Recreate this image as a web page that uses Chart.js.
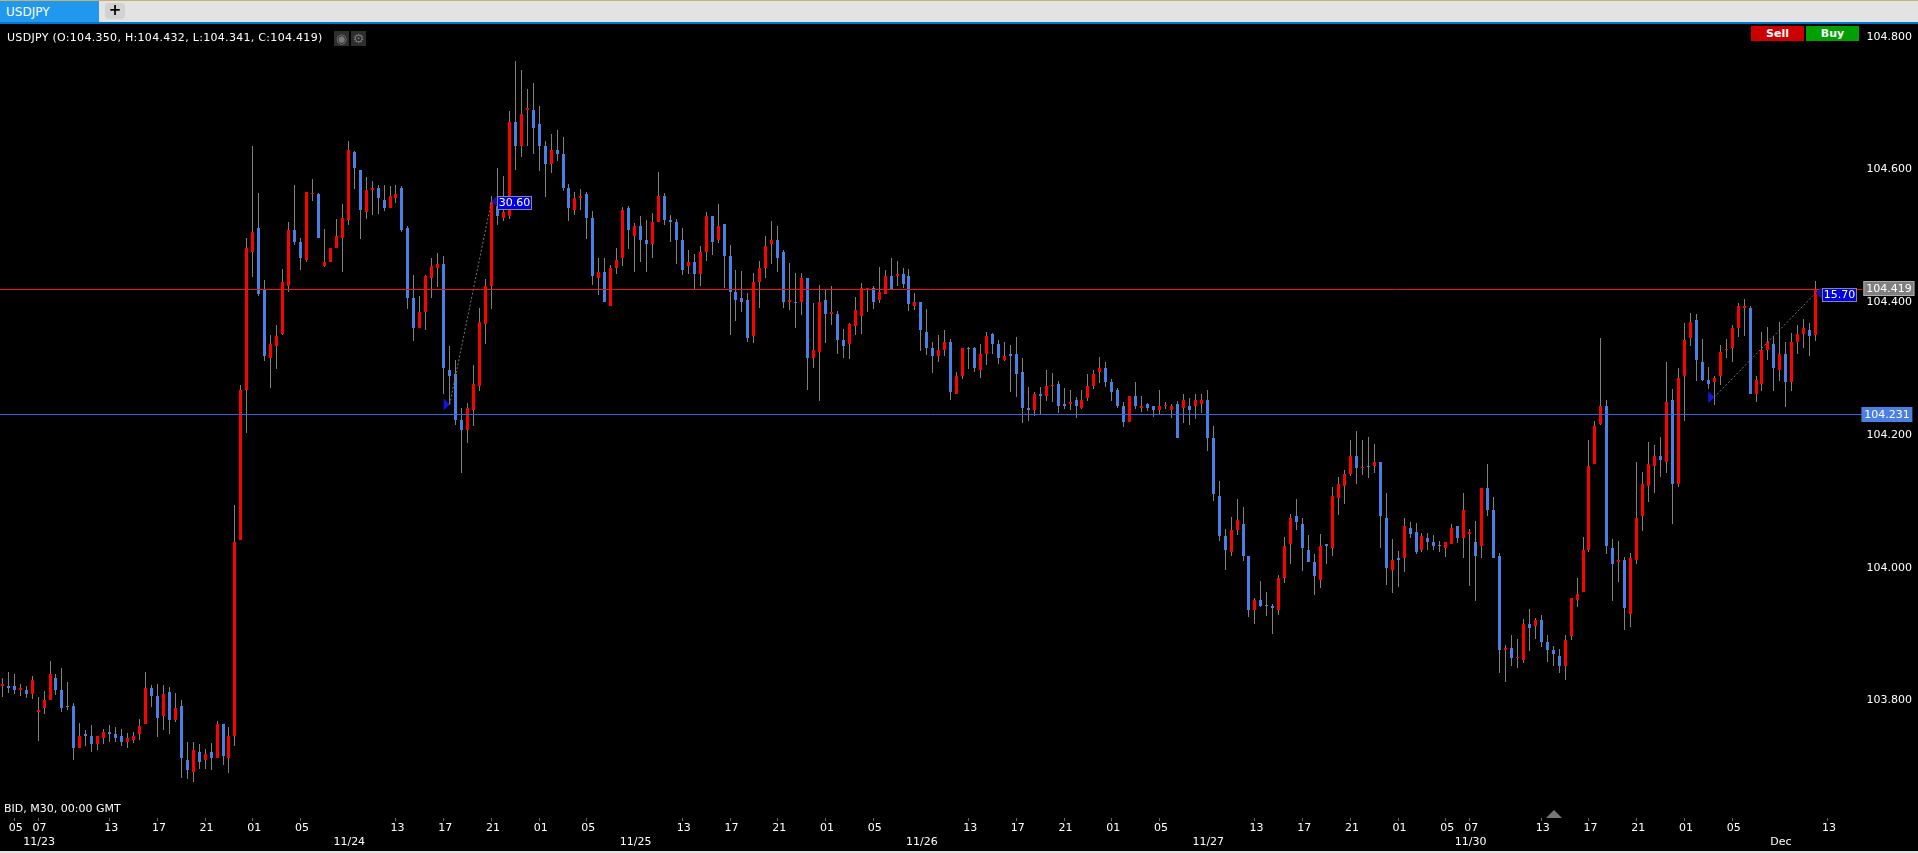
<!DOCTYPE html>
<html>
<head>
<meta charset="utf-8">
<title>USDJPY</title>
<script src="https://cdn.jsdelivr.net/npm/chart.js@4"></script>
<style>
  html, body { margin: 0; padding: 0; width: 1918px; height: 853px; overflow: hidden; background: #000; font-family: "DejaVu Sans", sans-serif; font-size: 11px; color: #fff; }
  #priceChart { position: absolute; left: -1px; top: 24px; }
  .abs { position: absolute; white-space: nowrap; }
  #topBar { left: 0; top: 0; width: 1918px; height: 22px; background: #e3e3e3; border-top: 1px solid #c8b070; box-sizing: border-box; }
  #blueRule { left: 0; top: 22px; width: 1918px; height: 2px; background: #0078d0; }
  #tab { left: 0; top: 1px; width: 99px; height: 21px; line-height: 22px; background: #2098ee; text-indent: 6px; font-size: 12px; }
  #plus { left: 105px; top: 3px; width: 20px; height: 16px; line-height: 15px; text-align: center; background: #d2d2d2; border-radius: 4px; color: #000; font-size: 15px; font-weight: bold; }
  #legend { left: 7px; top: 31px; line-height: 14px; letter-spacing: 0.3px; }
  .icon { top: 31px; width: 15px; height: 15px; line-height: 15px; text-align: center; background: #2e2e2e; color: #777; font-size: 13px; }
  #sell, #buy { top: 26px; width: 53px; height: 15px; line-height: 15px; text-align: center; font-weight: bold; }
  #sell { left: 1751px; background: #cc0000; }
  #buy { left: 1806px; background: #00a000; }
  #feed { left: 4px; top: 802px; line-height: 14px; }
  #marker { left: 1546px; top: 810px; width: 0; height: 0; border-left: 8px solid transparent; border-right: 8px solid transparent; border-bottom: 8px solid #777; }
  #footer { left: 0; top: 851px; width: 1918px; height: 2px; background: #e3e3e3; }
</style>
</head>
<body>
<canvas id="priceChart" width="1920" height="829"></canvas>
<div class="abs" id="topBar"></div>
<div class="abs" id="blueRule"></div>
<div class="abs" id="tab">USDJPY</div>
<div class="abs" id="plus">+</div>
<div class="abs" id="legend">USDJPY (O:104.350, H:104.432, L:104.341, C:104.419)</div>
<div class="abs icon" style="left:334px">&#9673;</div>
<div class="abs icon" style="left:351px">&#9881;</div>
<div class="abs" id="sell">Sell</div>
<div class="abs" id="buy">Buy</div>
<div class="abs" id="feed">BID, M30, 00:00 GMT</div>
<div class="abs" id="marker"></div>
<div class="abs" id="footer"></div>
<script>
const opens = [
  103.822,103.822,103.822,103.816,103.816,103.810,103.783,103.789,103.801,103.834,
  103.816,103.790,103.792,103.728,103.749,103.746,103.734,103.743,103.752,103.749,
  103.746,103.737,103.740,103.749,103.764,103.819,103.807,103.776,103.813,103.770,
  103.792,103.710,103.692,103.722,103.710,103.722,103.713,103.764,103.713,103.746,
  104.042,104.268,104.476,104.512,104.418,104.316,104.334,104.352,104.424,104.509,
  104.491,104.464,104.563,104.563,104.455,104.461,104.482,104.497,104.524,104.626,
  104.599,104.536,104.569,104.572,104.554,104.542,104.557,104.572,104.512,104.406,
  104.361,104.385,104.436,104.452,104.458,104.298,104.292,104.223,104.207,104.238,
  104.274,104.367,104.424,104.557,104.527,104.530,104.671,104.635,104.690,104.690,
  104.668,104.635,104.608,104.629,104.623,104.572,104.539,104.557,104.563,104.527,
  104.436,104.445,104.394,104.452,104.467,104.542,104.500,104.515,104.494,104.488,
  104.521,104.560,104.524,104.521,104.494,104.454,104.460,104.442,104.476,104.530,
  104.494,104.518,104.470,104.415,104.406,104.403,104.349,104.430,104.451,104.488,
  104.494,104.476,104.400,104.400,104.400,104.436,104.316,104.325,104.403,104.382,
  104.382,104.343,104.337,104.364,104.379,104.420,104.421,104.403,104.412,104.439,
  104.439,104.442,104.439,104.394,104.400,104.355,104.331,104.319,104.328,104.340,
  104.262,104.289,104.329,104.331,104.298,104.322,104.352,104.337,104.313,104.322,
  104.322,104.295,104.241,104.238,104.262,104.259,104.274,104.277,104.247,104.247,
  104.253,104.241,104.256,104.274,104.295,104.301,104.280,104.268,104.244,104.219,
  104.259,104.241,104.247,104.244,104.238,104.244,104.238,104.247,104.241,104.244,
  104.244,104.247,104.253,104.195,104.108,104.048,104.024,104.057,104.066,104.018,
  103.936,103.951,103.942,103.942,103.936,103.984,104.036,104.078,104.066,104.027,
  104.009,103.981,104.036,104.030,104.105,104.123,104.141,104.168,104.150,104.153,
  104.153,104.159,104.075,103.996,104.015,104.015,104.060,104.054,104.027,104.045,
  104.039,104.033,104.030,104.036,104.063,104.045,104.051,104.039,104.033,104.120,
  104.087,104.018,103.876,103.879,103.864,103.861,103.915,103.912,103.921,103.888,
  103.876,103.867,103.852,103.897,103.951,103.963,104.027,104.156,104.216,104.244,
  104.030,104.009,104.012,103.930,104.012,104.078,104.123,104.153,104.168,104.159,
  104.253,104.126,104.289,104.346,104.373,104.310,104.283,104.280,104.289,104.328,
  104.331,104.361,104.391,104.391,104.262,104.277,104.328,104.337,104.298,104.322,
  104.280,104.340,104.352,104.358,104.350
];
const highs = [
  103.834,103.843,103.840,103.825,103.822,103.837,103.805,103.814,103.859,103.840,
  103.849,103.828,103.796,103.766,103.755,103.763,103.746,103.757,103.763,103.760,
  103.757,103.751,103.752,103.772,103.843,103.823,103.825,103.823,103.820,103.811,
  103.801,103.737,103.737,103.734,103.727,103.736,103.769,103.764,103.760,104.095,
  104.276,104.496,104.635,104.564,104.433,104.351,104.366,104.450,104.521,104.577,
  104.497,104.566,104.585,104.564,104.510,104.482,104.525,104.548,104.643,104.628,
  104.599,104.589,104.583,104.577,104.577,104.575,104.577,104.575,104.515,104.441,
  104.409,104.441,104.467,104.474,104.470,104.334,104.313,104.241,104.248,104.305,
  104.391,104.435,104.560,104.602,104.590,104.688,104.763,104.750,104.721,104.730,
  104.696,104.643,104.653,104.659,104.649,104.578,104.566,104.571,104.566,104.537,
  104.467,104.467,104.456,104.482,104.543,104.545,104.519,104.530,104.524,104.534,
  104.596,104.564,104.531,104.525,104.512,104.479,104.472,104.485,104.536,104.530,
  104.548,104.518,104.486,104.448,104.447,104.414,104.444,104.462,104.500,104.522,
  104.515,104.479,104.459,104.444,104.444,104.436,104.399,104.426,104.420,104.424,
  104.387,104.360,104.369,104.408,104.429,104.421,104.424,104.453,104.448,104.467,
  104.462,104.451,104.450,104.414,104.400,104.390,104.340,104.351,104.358,104.345,
  104.295,104.331,104.332,104.332,104.337,104.355,104.354,104.343,104.340,104.335,
  104.348,104.316,104.272,104.265,104.272,104.298,104.293,104.281,104.271,104.268,
  104.257,104.268,104.292,104.298,104.317,104.310,104.284,104.271,104.250,104.259,
  104.280,104.259,104.248,104.244,104.268,104.250,104.247,104.251,104.262,104.256,
  104.262,104.262,104.268,104.213,104.131,104.058,104.076,104.103,104.091,104.018,
  103.954,103.980,103.963,103.945,103.989,104.046,104.081,104.104,104.075,104.049,
  104.021,104.051,104.036,104.122,104.137,104.147,104.192,104.206,104.192,104.197,
  104.186,104.159,104.113,104.043,104.025,104.075,104.069,104.067,104.052,104.052,
  104.049,104.040,104.039,104.066,104.063,104.113,104.058,104.070,104.120,104.156,
  104.106,104.022,103.883,103.899,103.893,103.923,103.938,103.924,103.929,103.899,
  103.882,103.877,103.899,103.954,103.984,104.046,104.192,104.221,104.346,104.253,
  104.043,104.040,104.016,104.022,104.159,104.144,104.189,104.185,104.197,104.310,
  104.269,104.301,104.368,104.384,104.382,104.344,104.302,104.289,104.335,104.344,
  104.366,104.399,104.405,104.394,104.289,104.355,104.363,104.349,104.370,104.340,
  104.353,104.366,104.375,104.369,104.432
];
const lows = [
  103.806,103.811,103.810,103.807,103.804,103.802,103.739,103.780,103.801,103.808,
  103.783,103.786,103.710,103.728,103.731,103.722,103.725,103.734,103.737,103.737,
  103.731,103.728,103.736,103.740,103.764,103.790,103.745,103.755,103.749,103.767,
  103.683,103.682,103.677,103.697,103.697,103.695,103.713,103.703,103.691,103.731,
  104.042,104.203,104.438,104.409,104.311,104.271,104.299,104.351,104.415,104.486,
  104.448,104.461,104.552,104.497,104.453,104.461,104.482,104.445,104.516,104.571,
  104.495,104.525,104.531,104.533,104.537,104.542,104.549,104.506,104.390,104.342,
  104.361,104.358,104.406,104.423,104.262,104.245,104.215,104.143,104.188,104.213,
  104.266,104.337,104.390,104.516,104.522,104.525,104.599,104.619,104.635,104.623,
  104.598,104.558,104.595,104.613,104.568,104.522,104.531,104.539,104.495,104.426,
  104.411,104.400,104.394,104.442,104.454,104.480,104.445,104.460,104.445,104.467,
  104.521,104.516,104.491,104.457,104.441,104.442,104.420,104.424,104.462,104.471,
  104.489,104.421,104.351,104.372,104.385,104.340,104.338,104.391,104.436,104.457,
  104.445,104.391,104.388,104.361,104.381,104.268,104.301,104.251,104.338,104.366,
  104.322,104.316,104.314,104.351,104.352,104.385,104.390,104.399,104.412,104.420,
  104.424,104.421,104.387,104.388,104.326,104.320,104.293,104.310,104.319,104.253,
  104.262,104.284,104.299,104.295,104.286,104.305,104.322,104.307,104.311,104.265,
  104.257,104.218,104.221,104.228,104.232,104.251,104.250,104.233,104.239,104.238,
  104.225,104.239,104.251,104.269,104.278,104.272,104.251,104.241,104.212,104.219,
  104.239,104.235,104.236,104.227,104.232,104.239,104.225,104.195,104.218,104.215,
  104.224,104.233,104.176,104.100,104.040,103.997,104.018,104.049,104.010,103.926,
  103.915,103.941,103.927,103.900,103.929,103.977,104.006,104.057,103.995,104.009,
  103.959,103.969,104.005,104.018,104.079,104.096,104.138,104.126,104.140,104.135,
  104.143,104.030,103.974,103.962,103.971,103.994,104.045,104.021,104.024,104.027,
  104.027,104.024,104.016,104.036,104.037,104.015,103.972,103.950,104.015,104.078,
  104.015,103.841,103.828,103.852,103.849,103.856,103.874,103.892,103.880,103.858,
  103.852,103.841,103.831,103.891,103.941,103.963,104.024,104.156,104.215,104.021,
  103.950,103.978,103.906,103.911,104.006,104.055,104.099,104.113,104.137,104.143,
  104.066,104.122,104.221,104.334,104.281,104.281,104.269,104.245,104.275,104.316,
  104.310,104.347,104.349,104.262,104.250,104.266,104.313,104.266,104.281,104.242,
  104.266,104.322,104.331,104.319,104.341
];
const closes = [
  103.825,103.819,103.816,103.819,103.810,103.831,103.786,103.801,103.840,103.816,
  103.789,103.790,103.728,103.746,103.746,103.734,103.746,103.752,103.749,103.743,
  103.737,103.743,103.746,103.761,103.819,103.807,103.773,103.810,103.770,103.789,
  103.713,103.695,103.725,103.707,103.719,103.713,103.764,103.716,103.746,104.039,
  104.268,104.482,104.506,104.412,104.319,104.337,104.349,104.430,104.509,104.491,
  104.467,104.566,104.565,104.497,104.461,104.482,104.500,104.527,104.629,104.602,
  104.539,104.569,104.572,104.557,104.542,104.560,104.563,104.509,104.406,104.361,
  104.385,104.439,104.455,104.458,104.301,104.289,104.223,104.207,104.241,104.277,
  104.370,104.424,104.551,104.530,104.536,104.671,104.635,104.684,104.693,104.662,
  104.635,104.608,104.629,104.623,104.572,104.542,104.557,104.560,104.527,104.439,
  104.445,104.400,104.452,104.464,104.539,104.509,104.515,104.494,104.488,104.521,
  104.560,104.524,104.521,104.494,104.448,104.460,104.442,104.476,104.530,104.491,
  104.515,104.470,104.415,104.403,104.400,104.346,104.430,104.451,104.485,104.494,
  104.467,104.400,104.403,104.399,104.436,104.316,104.328,104.400,104.382,104.385,
  104.343,104.334,104.367,104.388,104.421,104.421,104.400,104.415,104.439,104.420,
  104.442,104.427,104.397,104.400,104.358,104.331,104.319,104.328,104.340,104.265,
  104.289,104.331,104.329,104.301,104.322,104.349,104.337,104.316,104.319,104.319,
  104.292,104.241,104.238,104.262,104.259,104.274,104.275,104.244,104.244,104.250,
  104.244,104.253,104.274,104.292,104.301,104.280,104.265,104.244,104.219,104.259,
  104.244,104.244,104.241,104.238,104.244,104.245,104.244,104.195,104.253,104.238,
  104.253,104.253,104.195,104.111,104.048,104.027,104.057,104.072,104.018,103.936,
  103.951,103.942,103.942,103.939,103.984,104.033,104.075,104.069,104.030,104.009,
  103.988,104.033,104.033,104.108,104.126,104.141,104.168,104.150,104.152,104.152,
  104.159,104.078,104.000,104.011,104.011,104.063,104.051,104.024,104.048,104.039,
  104.033,104.033,104.039,104.060,104.045,104.087,104.054,104.018,104.120,104.087,
  104.015,103.876,103.879,103.864,103.865,103.915,103.909,103.921,103.888,103.876,
  103.870,103.852,103.891,103.954,103.960,104.027,104.153,104.214,104.244,104.033,
  104.006,104.012,103.939,104.015,104.075,104.126,104.156,104.168,104.162,104.250,
  104.126,104.286,104.343,104.370,104.313,104.283,104.277,104.286,104.325,104.329,
  104.361,104.394,104.394,104.262,104.283,104.328,104.340,104.301,104.322,104.280,
  104.340,104.352,104.361,104.349,104.419
];

const priceTicks = [104.8, 104.6, 104.4, 104.2, 104.0, 103.8];
const hourBars = [2, 6, 18, 26, 34, 42, 50, 66, 74, 82, 90, 98, 114, 122, 130, 138, 146, 162, 170, 178, 186, 194, 210, 218, 226, 234, 242, 246, 258, 266, 274, 282, 290, 306];
const hourLabels = ['05', '07', '13', '17', '21', '01', '05', '13', '17', '21', '01', '05', '13', '17', '21', '01', '05', '13', '17', '21', '01', '05', '13', '17', '21', '01', '05', '07', '13', '17', '21', '01', '05', '13'];
const dateBars = [6, 58, 106, 154, 202, 246, 298];
const dateLabels = ['11/23', '11/24', '11/25', '11/26', '11/27', '11/30', 'Dec'];
const levelPrices = [104.419, 104.231];
const measureBars = [[75, 82], [287, 304]];
const measurePrices = [[104.246, 104.552], [104.257, 104.414]];
const measureLabels = ['30.60', '15.70'];

const RED = '#ff0000';
const BLUE = '#4a80e4';
const GREY = '#808080';
const FONT = '11px "DejaVu Sans", sans-serif';
const slotCount = 312;

const slots = [];
for (let i = 0; i < slotCount; i++) slots.push(i);

function candleColor(i) {
  if (closes[i] > opens[i]) return RED;
  if (closes[i] < opens[i]) return BLUE;
  return GREY;
}

// keep candles on whole pixels, the platform does not antialias them
const snapBars = {
  id: 'snapBars',
  afterDatasetsUpdate(chart) {
    chart.data.datasets.forEach((ds, n) => {
      chart.getDatasetMeta(n).data.forEach(el => {
        el.x = Math.round(el.x - 0.5) + 0.5;
        el.y = Math.round(el.y);
        el.base = Math.round(el.base);
        if (el.base === el.y) el.base = el.y + 1;
      });
    });
  }
};

function drawTag(ctx, x, y, w, h, fill, border, text) {
  ctx.fillStyle = fill;
  ctx.fillRect(x, y, w, h);
  if (border) {
    ctx.strokeStyle = border;
    ctx.lineWidth = 1;
    ctx.strokeRect(x + 0.5, y + 0.5, w - 1, h - 1);
  }
  ctx.fillStyle = '#fff';
  ctx.textAlign = 'center';
  ctx.textBaseline = 'middle';
  ctx.fillText(text, x + w / 2, y + h / 2 + 0.5);
}

const overlays = {
  id: 'overlays',
  afterDraw(chart) {
    const ctx = chart.ctx;
    const xs = chart.scales.x;
    const ys = chart.scales.y;
    const right = chart.chartArea.right;
    ctx.save();
    ctx.font = FONT;

    // level lines with their tags
    const lineColors = ['#f01414', '#2f66e0'];
    levelPrices.forEach((price, n) => {
      const y = Math.floor(ys.getPixelForValue(price)) + 0.5;
      ctx.strokeStyle = lineColors[n];
      ctx.lineWidth = 1;
      ctx.beginPath();
      ctx.moveTo(0, y);
      ctx.lineTo(right + 2, y);
      ctx.stroke();
    });
    const y0 = Math.floor(ys.getPixelForValue(levelPrices[0]));
    drawTag(ctx, right + 3, y0 - 8, 51, 15, GREY, '#aaa', levelPrices[0].toFixed(3));
    const y1 = Math.floor(ys.getPixelForValue(levelPrices[1]));
    drawTag(ctx, right + 1, y1 - 7, 51, 15, BLUE, null, levelPrices[1].toFixed(3));

    // measure lines
    measureBars.forEach((bars, n) => {
      const x1 = xs.getPixelForValue(bars[0]);
      const x2 = xs.getPixelForValue(bars[1]);
      const y1 = ys.getPixelForValue(measurePrices[n][0]);
      const y2 = ys.getPixelForValue(measurePrices[n][1]);
      ctx.strokeStyle = '#777';
      ctx.setLineDash([2, 2]);
      ctx.lineWidth = 1;
      ctx.beginPath();
      ctx.moveTo(x1, y1);
      ctx.lineTo(x2, y2);
      ctx.stroke();
      ctx.setLineDash([]);
      ctx.fillStyle = '#1414e6';
      ctx.beginPath();
      ctx.moveTo(x1 - 6, y1 - 6);
      ctx.lineTo(x1, y1);
      ctx.lineTo(x1 - 6, y1 + 6);
      ctx.closePath();
      ctx.fill();
      ctx.fillStyle = '#14149a';
      ctx.beginPath();
      ctx.moveTo(x2 + 6, y2 - 6);
      ctx.lineTo(x2, y2);
      ctx.lineTo(x2 + 6, y2 + 6);
      ctx.closePath();
      ctx.fill();
      drawTag(ctx, Math.round(x2) + 6, Math.round(y2) - 5, 35, 14, '#0000e6', '#888', measureLabels[n]);
    });

    // date row under the hours
    ctx.fillStyle = '#fff';
    ctx.textAlign = 'center';
    ctx.textBaseline = 'middle';
    dateBars.forEach((bar, n) => {
      ctx.fillText(dateLabels[n], xs.getPixelForValue(bar) + 1, chart.chartArea.bottom + 24.5);
    });
    ctx.restore();
  }
};

new Chart(document.getElementById('priceChart').getContext('2d'), {
  type: 'bar',
  data: {
    labels: slots,
    datasets: [
      {
        label: 'Body',
        data: opens.map((o, i) => [o, closes[i]]),
        backgroundColor: opens.map((o, i) => candleColor(i)),
        barThickness: 3,
        minBarLength: 1,
        inflateAmount: 0,
        grouped: false,
        order: 1
      },
      {
        label: 'Wick',
        data: lows.map((l, i) => [l, highs[i]]),
        backgroundColor: GREY,
        barThickness: 1,
        inflateAmount: 0,
        grouped: false,
        order: 2
      }
    ]
  },
  options: {
    responsive: false,
    animation: false,
    devicePixelRatio: 1,
    layout: { autoPadding: false, padding: { left: 0.32, right: 0, top: 0, bottom: 0 } },
    plugins: { legend: { display: false }, tooltip: { enabled: false } },
    scales: {
      x: {
        type: 'category',
        offset: true,
        border: { display: false },
        grid: { display: true, drawOnChartArea: false, offset: false, drawTicks: true, tickLength: 3, tickColor: '#666', color: '#666' },
        ticks: {
          autoSkip: false,
          maxRotation: 0,
          minRotation: 0,
          padding: 1,
          labelOffset: 1.5,
          color: '#fff',
          font: { family: '"DejaVu Sans", sans-serif', size: 11 },
          callback(value) {
            const n = hourBars.indexOf(value);
            return n < 0 ? null : hourLabels[n];
          }
        },
        afterFit(scale) {
          scale.height = 35;
          scale.paddingLeft = 0;
          scale.paddingRight = 0;
        }
      },
      y: {
        position: 'right',
        bounds: 'data',
        min: 103.623,
        max: 104.8191,
        border: { display: false },
        grid: { display: false, drawTicks: false },
        ticks: {
          padding: 6,
          color: '#fff',
          font: { family: '"DejaVu Sans", sans-serif', size: 11 },
          callback(value) { return value.toFixed(3); }
        },
        afterBuildTicks(scale) { scale.ticks = priceTicks.map(v => ({ value: v })); },
        afterFit(scale) {
          scale.width = 58.6;
          scale.paddingTop = 0;
          scale.paddingBottom = 0;
        }
      }
    }
  },
  plugins: [snapBars, overlays]
});
</script>
</body>
</html>
